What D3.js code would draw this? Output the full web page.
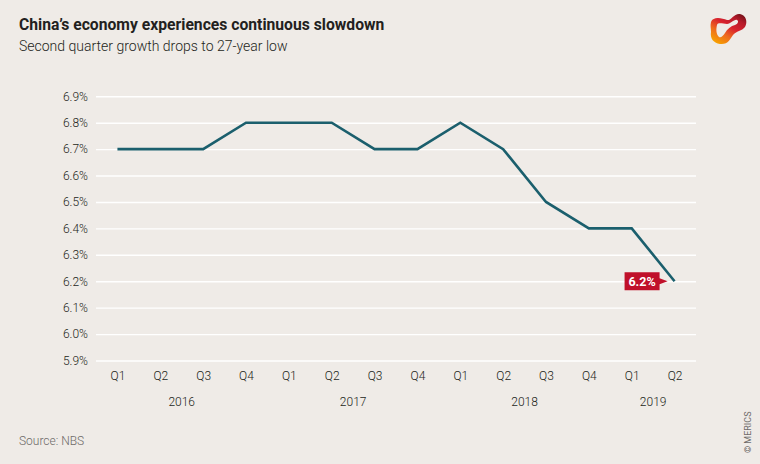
<!DOCTYPE html>
<html><head><meta charset="utf-8">
<script src="https://cdn.jsdelivr.net/npm/d3@7"></script>
<style>
html,body{margin:0;padding:0;background:#efebe7;}
svg{display:block;font-family:"Roboto","Open Sans",sans-serif;}
</style></head>
<body>
<svg id="c" width="760" height="464"></svg>
<script>
const quarters = ["Q1","Q2","Q3","Q4","Q1","Q2","Q3","Q4","Q1","Q2","Q3","Q4","Q1","Q2"];
const years = ["2016","2016","2016","2016","2017","2017","2017","2017","2018","2018","2018","2018","2019","2019"];
const growth = [6.7,6.7,6.7,6.8,6.8,6.8,6.7,6.7,6.8,6.7,6.5,6.4,6.4,6.2];
const yTicks = [5.9,6.0,6.1,6.2,6.3,6.4,6.5,6.6,6.7,6.8,6.9];
const yearLabels = ["2016","2017","2018","2019"];

const svg = d3.select("#c");
svg.append("rect").attr("width",760).attr("height",464).attr("fill","#efebe7");

const idx = d3.range(growth.length);
const x = d3.scalePoint().domain(idx).range([96,696]).padding(0.5);
const y = d3.scaleLinear().domain([5.9,6.9]).range([360.5,96.3]);

// title
svg.append("text").attr("x",19).attr("y",30).attr("font-size",15.7).attr("font-weight",700)
  .attr("fill","#231f20").text("China’s economy experiences continuous slowdown");
svg.append("text").attr("x",19).attr("y",51).attr("font-size",14).attr("font-weight",300)
  .attr("fill","#231f20").text("Second quarter growth drops to 27-year low");

// grid
const yAxis = d3.axisLeft(y).tickValues(yTicks).tickSize(-600).tickPadding(8)
  .tickFormat(d => d3.format(".1f")(d) + "%");
const ga = svg.append("g").attr("transform","translate(96,0)").call(yAxis);
ga.select(".domain").remove();
ga.selectAll(".tick line").attr("stroke","#ffffff").attr("stroke-width",1.4);
ga.selectAll(".tick text").attr("font-size",12).attr("fill","#231f20")
  .attr("font-family","Roboto, sans-serif").attr("font-weight",300).attr("x",-8);

// x axis quarters
const xAxis = d3.axisBottom(x).tickSize(0).tickPadding(0).tickFormat(i => quarters[i]);
const gx = svg.append("g").attr("transform","translate(0,371)").call(xAxis);
gx.select(".domain").remove();
gx.selectAll(".tick text").attr("font-size",12).attr("fill","#231f20")
  .attr("font-family","Roboto, sans-serif").attr("font-weight",300).attr("dy","0.71em");

// year labels: centered between quarters of each year
yearLabels.forEach(yr => {
  const ids = idx.filter(i => years[i] === yr);
  const cx = (x(ids[0]) + x(ids[ids.length-1])) / 2;
  svg.append("text").attr("x",cx).attr("y",406).attr("text-anchor","middle")
    .attr("font-size",12).attr("font-weight",300).attr("fill","#231f20").text(yr);
});

// line
const line = d3.line().x(i => x(i)).y(i => y(growth[i]));
svg.append("path").datum(idx).attr("d",line).attr("fill","none")
  .attr("stroke","#1b5f6d").attr("stroke-width",2.6).attr("stroke-linejoin","miter");

// annotation
const last = growth.length-1;
const lx = x(last), ly = y(growth[last]);
const ann = svg.append("g");
ann.append("path")
  .attr("d",`M${lx-50},${ly-9} L${lx-15},${ly-9} L${lx-15},${ly-3} L${lx-7},${ly} L${lx-15},${ly+3} L${lx-15},${ly+9} L${lx-50},${ly+9} Z`)
  .attr("fill","#c0102a");
ann.append("text").attr("x",lx-32.5).attr("y",ly+4.5).attr("text-anchor","middle")
  .attr("font-size",12.5).attr("font-weight",700).attr("fill","#ffffff")
  .text(d3.format(".1f")(growth[last]) + "%");

// source
svg.append("text").attr("x",19).attr("y",445).attr("font-size",12).attr("font-weight",300)
  .attr("fill","#6d6a68").text("Source: NBS");
svg.append("text").attr("transform","translate(751,453) rotate(-90)").attr("font-size",9)
  .attr("fill","#6d6a68").text("© MERICS");

// logo
const defs = svg.append("defs");
const gr = defs.append("linearGradient").attr("id","lg").attr("x1","0.2").attr("y1","1").attr("x2","0.9").attr("y2","0");
gr.append("stop").attr("offset","0").attr("stop-color","#f7a300");
gr.append("stop").attr("offset","0.3").attr("stop-color","#ee6a1e");
gr.append("stop").attr("offset","0.55").attr("stop-color","#d9222e");
gr.append("stop").attr("offset","0.8").attr("stop-color","#b51a2a");
gr.append("stop").attr("offset","1").attr("stop-color","#6e1118");
svg.append("path")
  .attr("d","M711,22 C713,16 722,18 727,20 C731,21 734,13 740,14 C746,15 748,22 745,27 C742,31 736,31 733,35 C730,39 728,45 720,44 C713,43 710,38 711,32 C711,28 710,26 711,22 Z M717,25 C716,29 716,34 719,37 C721,38 723,36 725,33 C727,29 731,26 735,25 C738,24 739,21 737,20 C734,19 731,24 727,24 C723,24 718,22 717,25 Z")
  .attr("fill","url(#lg)").attr("fill-rule","evenodd");
</script>
</body></html>
